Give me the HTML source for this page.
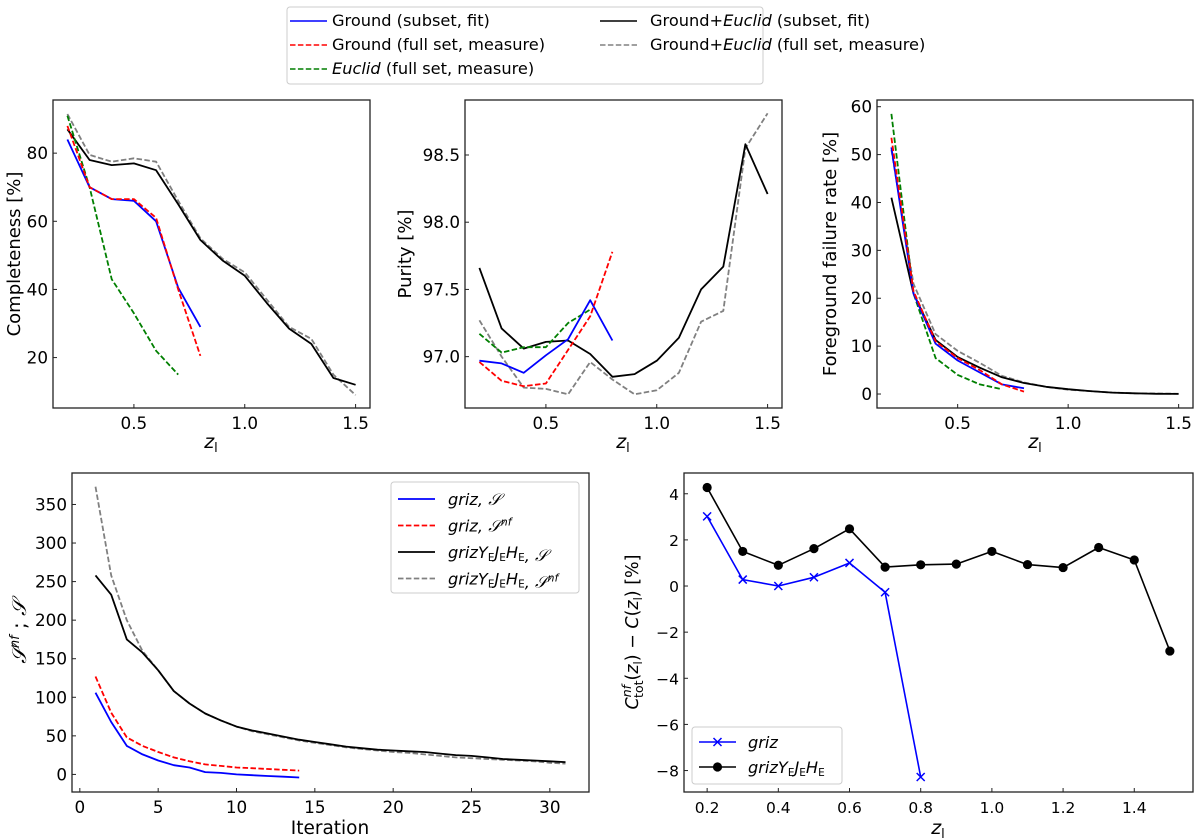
<!DOCTYPE html>
<html><head><meta charset="utf-8">
<style>
body{margin:0;background:#fff;}
svg{display:block;font-family:"DejaVu Sans","Liberation Sans",sans-serif;}
</style></head>
<body>
<svg id="fig" width="1200" height="838" viewBox="0 0 1200 838" xmlns="http://www.w3.org/2000/svg">
  <g id="legend-top">
    <rect x="287" y="7" width="476" height="77" rx="3" fill="#fff" stroke="#ccc" stroke-width="1"/>
    <line x1="290" y1="21" x2="327" y2="21" stroke="#0000ff" stroke-width="1.6"/>
    <text x="332" y="26" font-size="16.2">Ground (subset, fit)</text>
    <line x1="290" y1="45" x2="327" y2="45" stroke="#ff0000" stroke-width="1.6" stroke-dasharray="5.5,2.4"/>
    <text x="332" y="50" font-size="16.2">Ground (full set, measure)</text>
    <line x1="290" y1="69" x2="327" y2="69" stroke="#007f00" stroke-width="1.6" stroke-dasharray="5.5,2.4"/>
    <text x="332" y="74" font-size="16.2"><tspan font-style="italic">Euclid</tspan> (full set, measure)</text>
    <line x1="600" y1="21" x2="637" y2="21" stroke="#000" stroke-width="1.6"/>
    <text x="650" y="26" font-size="16.2">Ground+<tspan font-style="italic">Euclid</tspan> (subset, fit)</text>
    <line x1="600" y1="45" x2="637" y2="45" stroke="#808080" stroke-width="1.6" stroke-dasharray="5.5,2.4"/>
    <text x="650" y="50" font-size="16.2">Ground+<tspan font-style="italic">Euclid</tspan> (full set, measure)</text>
  </g>
</svg>
<script>
// ---- data ----
const zAll = [0.2,0.3,0.4,0.5,0.6,0.7,0.8,0.9,1.0,1.1,1.2,1.3,1.4,1.5];
const zG = [0.2,0.3,0.4,0.5,0.6,0.7,0.8];
const zE = [0.2,0.3,0.4,0.5,0.6,0.7];
// completeness
const compBlack = [87,78,76.5,77,75,65,54.5,48.5,44,36,28.5,24,14,12];
const compGray = [91.5,79.5,77.5,78.5,77.5,66,55,49,45,37,29,25.5,15,9];
const compBlue = [84,70,66.5,66,60,40.5,29];
const compRed = [88,70,66.5,66.5,61,40,20.5];
const compGreen = [91,70,43,33,22,15];
// purity
const purBlack = [97.66,97.21,97.06,97.11,97.12,97.02,96.85,96.87,96.97,97.14,97.50,97.67,98.58,98.21];
const purGray = [97.27,97.0,96.77,96.76,96.72,96.96,96.83,96.72,96.75,96.88,97.26,97.34,98.55,98.81];
const purBlue = [96.97,96.95,96.88,97.01,97.13,97.42,97.12];
const purRed = [96.96,96.82,96.78,96.80,97.05,97.30,97.78];
const purGreen = [97.17,97.03,97.07,97.07,97.25,97.35];
// foreground failure
const ffBlack = [41,21,11.3,7.7,5.5,3.5,2.3,1.5,1.0,0.6,0.3,0.15,0.05,0.02];
const ffGray = [51,23,12.5,9,6.5,3.8,2.4,1.5,0.9,0.6,0.3,0.15,0.1,0.05];
const ffBlue = [51.5,21,10.5,7,4.5,2,1.2];
const ffRed = [53.5,21.5,11,7.5,5,2,0.5];
const ffGreen = [58.5,21,7.5,4,2,1];
// iterations
const itLong = [1,2,3,4,5,6,7,8,9,10,11,12,13,14,15,16,17,18,19,20,21,22,23,24,25,26,27,28,29,30,31];
const itShort = [1,2,3,4,5,6,7,8,9,10,11,12,13,14];
const itBlack = [258,233,175,158,135,108,92,79,70,62,57,53,49,45,42,39,36,34,32,31,30,29,27,25,24,22,20,19,18,17,16];
const itGray = [373,258,200,160,135,108,92,79,70,62,56,52,48,44,41,38,35,33,31,29,28,26,24,22,21,20,19,18,17,15,14];
const itBlue = [106,68,37,26,18,12,9,3,2,0,-1,-2,-3,-4];
const itRed = [127,80,48,37,29,22,17,13,11,9,8,7,6,5];
// difference
const zDiffBlack = [0.2,0.3,0.4,0.5,0.6,0.7,0.8,0.9,1.0,1.1,1.2,1.3,1.4,1.5];
const diffBlack = [4.27,1.5,0.9,1.62,2.48,0.82,0.92,0.95,1.5,0.93,0.8,1.67,1.13,-2.82];
const zDiffBlue = [0.2,0.3,0.4,0.5,0.6,0.7,0.8];
const diffBlue = [3.02,0.28,0,0.38,1.0,-0.27,-8.28];
// ticks
const zTicks = [0.5,1.0,1.5];
const zTickLabels = ['0.5','1.0','1.5'];
const compTicks = [20,40,60,80];
const purTicks = [97.0,97.5,98.0,98.5];
const purTickLabels = ['97.0','97.5','98.0','98.5'];
const ffTicks = [0,10,20,30,40,50,60];
const itTicks = [0,5,10,15,20,25,30];
const itYTicks = [0,50,100,150,200,250,300,350];
const diffXTicks = [0.2,0.4,0.6,0.8,1.0,1.2,1.4];
const diffXTickLabels = ['0.2','0.4','0.6','0.8','1.0','1.2','1.4'];
const diffYTicks = [-8,-6,-4,-2,0,2,4];
const diffYTickLabels = ['\u22128','\u22126','\u22124','\u22122','0','2','4'];

const NS = 'http://www.w3.org/2000/svg';
const svg = document.getElementById('fig');
function mk(tag, attrs, parent){
  const e = document.createElementNS(NS, tag);
  for (const k in attrs) e.setAttribute(k, attrs[k]);
  (parent||svg).appendChild(e);
  return e;
}
function axes(name, L, R, T, B, xmin, xmax, ymin, ymax){
  const g = mk('g', {});
  
  
  const sx = v => L + (v - xmin) / (xmax - xmin) * (R - L);
  const sy = v => B - (v - ymin) / (ymax - ymin) * (B - T);
  return {g, sx, sy, L, R, T, B};
}
function frame(a){
  const r = mk('rect', {x:a.L, y:a.T, width:a.R-a.L, height:a.B-a.T, fill:'none', stroke:'#222', 'stroke-width':1.3}, a.g);
  
  
}
function xticks(a, vals, labels, fs){
  vals.forEach((v,i)=>{
    const x = a.sx(v);
    mk('line', {x1:x, x2:x, y1:a.B, y2:a.B-4, stroke:'#222', 'stroke-width':1}, a.g);
    const t = mk('text', {x:x, y:a.B+21, 'font-size':fs||16.8, 'text-anchor':'middle'}, a.g);
    t.textContent = labels ? labels[i] : String(v);
    
    
  });
}
function yticks(a, vals, labels, fs){
  vals.forEach((v,i)=>{
    const y = a.sy(v);
    mk('line', {x1:a.L, x2:a.L+4, y1:y, y2:y, stroke:'#222', 'stroke-width':1}, a.g);
    const t = mk('text', {x:a.L-5, y:y+6, 'font-size':fs||16.8, 'text-anchor':'end'}, a.g);
    t.textContent = labels ? labels[i] : String(v);
    
    
  });
}
function line(a, xs, ys, color, dashed, name, w){
  const d = xs.map((x,i)=>(i?'L':'M')+a.sx(x).toFixed(1)+','+a.sy(ys[i]).toFixed(1)).join(' ');
  const p = mk('path', {d, fill:'none', stroke:color, 'stroke-width':w||1.8, 'stroke-linejoin':'round'}, a.g);
  if (dashed) p.setAttribute('stroke-dasharray', '5.5,2.4');
  
  
  return p;
}
function label(parent, x, y, html, fs, rot, name){
  const t = mk('text', {x, y, 'font-size':fs, 'text-anchor':'middle'}, parent);
  if (rot) t.setAttribute('transform', 'rotate(-90 '+x+' '+y+')');
  t.innerHTML = html;
  
  
  return t;
}
const zlab = '<tspan font-style="italic">z</tspan><tspan font-size="13" dy="4">l</tspan>';

// Panel 1: completeness
const a1 = axes('completeness-panel', 53, 370, 100, 408, 0.135, 1.565, 5.2, 95.6);
line(a1, zAll, compGray, '#808080', true, 'completeness-ground-euclid-full');
line(a1, zAll, compBlack, '#000', false, 'completeness-ground-euclid-subset');
line(a1, zE, compGreen, '#007f00', true, 'completeness-euclid-full');
line(a1, zG, compBlue, '#0000ff', false, 'completeness-ground-subset');
line(a1, zG, compRed, '#ff0000', true, 'completeness-ground-full');
frame(a1); xticks(a1, zTicks, zTickLabels); yticks(a1, compTicks);
label(a1.g, 211, 448, zlab, 19, false, 'x-axis-title');
label(a1.g, 20, 254, 'Completeness [%]', 18, true, 'y-axis-title');

// Panel 2: purity
const a2 = axes('purity-panel', 465, 782, 100, 408, 0.135, 1.565, 96.618, 98.909);
line(a2, zAll, purGray, '#808080', true, 'purity-ground-euclid-full');
line(a2, zAll, purBlack, '#000', false, 'purity-ground-euclid-subset');
line(a2, zE, purGreen, '#007f00', true, 'purity-euclid-full');
line(a2, zG, purBlue, '#0000ff', false, 'purity-ground-subset');
line(a2, zG, purRed, '#ff0000', true, 'purity-ground-full');
frame(a2); xticks(a2, zTicks, zTickLabels); yticks(a2, purTicks, purTickLabels);
label(a2.g, 623, 448, zlab, 19, false, 'x-axis-title');
label(a2.g, 411, 254, 'Purity [%]', 18, true, 'y-axis-title');

// Panel 3: foreground failure
const a3 = axes('failure-rate-panel', 877, 1193, 100, 408, 0.135, 1.565, -2.92, 61.4);
line(a3, zAll, ffGray, '#808080', true, 'failure-ground-euclid-full');
line(a3, zAll, ffBlack, '#000', false, 'failure-ground-euclid-subset');
line(a3, zE, ffGreen, '#007f00', true, 'failure-euclid-full');
line(a3, zG, ffBlue, '#0000ff', false, 'failure-ground-subset');
line(a3, zG, ffRed, '#ff0000', true, 'failure-ground-full');
frame(a3); xticks(a3, zTicks, zTickLabels); yticks(a3, ffTicks);
label(a3.g, 1035, 448, zlab, 19, false, 'x-axis-title');
label(a3.g, 836, 254, 'Foreground failure rate [%]', 18, true, 'y-axis-title');

// Panel 4: iterations
const a4 = axes('iteration-panel', 72, 589, 473, 792, -0.5, 32.5, -22.8, 390.8);
line(a4, itLong, itGray, '#808080', true, 'iter-grizYJH-snf');
line(a4, itLong, itBlack, '#000', false, 'iter-grizYJH-s');
line(a4, itShort, itRed, '#ff0000', true, 'iter-griz-snf');
line(a4, itShort, itBlue, '#0000ff', false, 'iter-griz-s');
frame(a4); xticks(a4, itTicks); yticks(a4, itYTicks);
label(a4.g, 330, 834, 'Iteration', 18.5, false, 'x-axis-title');
label(a4.g, 26, 632, '<tspan font-style="italic">\uD835\uDCAE</tspan><tspan font-size="13" dy="-7" font-style="italic">nf</tspan><tspan dy="7"> ; </tspan><tspan font-style="italic">\uD835\uDCAE</tspan>', 20, true, 'y-axis-title');
{
  const lg = mk('g', {}, a4.g);
  
  
  mk('rect', {x:391, y:482, width:188, height:111, rx:3, fill:'#fff', stroke:'#ccc'}, lg);
  const items = [['#0000ff',false,'griz',''],['#ff0000',true,'griz','nf'],['#000',false,'grizYJH',''],['#808080',true,'grizYJH','nf']];
  items.forEach((it,i)=>{
    const y = 499 + i*26.5;
    const l = mk('line', {x1:398, x2:435, y1:y, y2:y, stroke:it[0], 'stroke-width':1.8}, lg);
    if (it[1]) l.setAttribute('stroke-dasharray','5.5,2.4');
    const t = mk('text', {x:448, y:y+6, 'font-size':16.2, 'font-style':'italic'}, lg);
    const base = it[2]==='griz' ? 'griz' : 'grizY<tspan font-size="10.5" dy="3" font-style="normal">E</tspan><tspan dy="-3">J</tspan><tspan font-size="10.5" dy="3" font-style="normal">E</tspan><tspan dy="-3">H</tspan><tspan font-size="10.5" dy="3" font-style="normal">E</tspan><tspan dy="-3"></tspan>';
    t.innerHTML = base + ', \uD835\uDCAE' + (it[3] ? '<tspan font-size="11" dy="-6">nf</tspan>' : '');
    
    
  });
}

// Panel 5: difference
const a5 = axes('completeness-difference-panel', 684, 1193, 473, 792, 0.135, 1.565, -8.93, 4.9);
line(a5, zDiffBlack, diffBlack, '#000', false, 'diff-grizYJH', 1.6);
line(a5, zDiffBlue, diffBlue, '#0000ff', false, 'diff-griz', 1.6);
zDiffBlack.forEach((z,i)=>{
  const c = mk('circle', {cx:a5.sx(z), cy:a5.sy(diffBlack[i]), r:4.6, fill:'#000'}, a5.g);
  
  
});
zDiffBlue.forEach((z,i)=>{
  const x = a5.sx(z), y = a5.sy(diffBlue[i]);
  const p = mk('path', {d:`M${x-4},${y-4}L${x+4},${y+4}M${x-4},${y+4}L${x+4},${y-4}`, stroke:'#0000ff', 'stroke-width':1.5}, a5.g);
  
  
});
frame(a5); xticks(a5, diffXTicks, diffXTickLabels, 15.5); yticks(a5, diffYTicks, diffYTickLabels, 15.5);
label(a5.g, 938, 834, zlab, 19, false, 'x-axis-title');
label(a5.g, 638, 632, '<tspan font-style="italic">C</tspan><tspan font-size="12.5" dy="-7" font-style="italic">nf</tspan><tspan font-size="12.5" dx="-13" dy="12">tot</tspan><tspan dy="-5">(</tspan><tspan font-style="italic">z</tspan><tspan font-size="11.5" dy="4">l</tspan><tspan dy="-4">) \u2212 </tspan><tspan font-style="italic">C</tspan>(<tspan font-style="italic">z</tspan><tspan font-size="11.5" dy="4">l</tspan><tspan dy="-4">) [%]</tspan>', 17.5, true, 'y-axis-title');
{
  const lg = mk('g', {}, a5.g);
  
  
  mk('rect', {x:692, y:727, width:150, height:57, rx:3, fill:'#fff', stroke:'#ccc'}, lg);
  mk('line', {x1:699, x2:736, y1:742, y2:742, stroke:'#0000ff', 'stroke-width':1.6}, lg);
  mk('path', {d:'M713.5,738L721.5,746M713.5,746L721.5,738', stroke:'#0000ff', 'stroke-width':1.5}, lg);
  const t1 = mk('text', {x:748, y:748, 'font-size':16.2, 'font-style':'italic'}, lg);
  t1.textContent = 'griz';
  
  
  mk('line', {x1:699, x2:736, y1:767, y2:767, stroke:'#000', 'stroke-width':1.6}, lg);
  mk('circle', {cx:717.5, cy:767, r:4.6, fill:'#000'}, lg);
  const t2 = mk('text', {x:748, y:773, 'font-size':16.2, 'font-style':'italic'}, lg);
  t2.innerHTML = 'grizY<tspan font-size="10.5" dy="3" font-style="normal">E</tspan><tspan dy="-3">J</tspan><tspan font-size="10.5" dy="3" font-style="normal">E</tspan><tspan dy="-3">H</tspan><tspan font-size="10.5" dy="3" font-style="normal">E</tspan>';
  
  
}
</script>
</body></html>
